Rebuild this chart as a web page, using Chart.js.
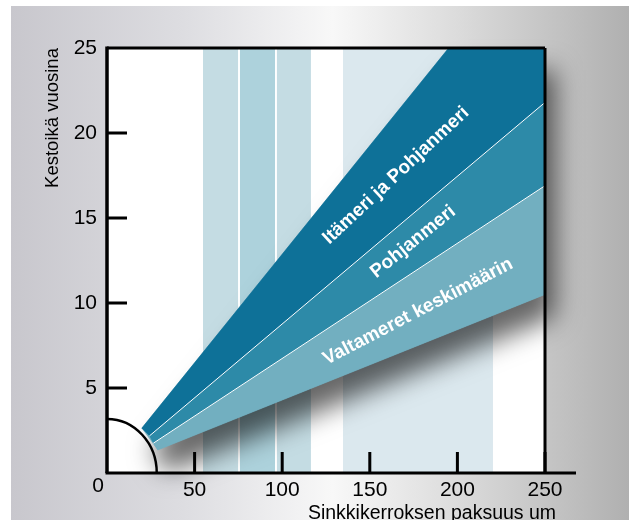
<!DOCTYPE html>
<html lang="fi">
<head>
  <meta charset="UTF-8">
  <title>Sinkkikerroksen kestoikä</title>
  <script src="https://cdn.jsdelivr.net/npm/chart.js@4.4.1/dist/chart.umd.min.js"></script>
  <style>
    body { margin: 0; background: #fff; }
  </style>
</head>
<body>
  <canvas id="chart" width="629" height="520"></canvas>

  <script>
    // AXES
    const xMax = 250;
    const yMax = 25;
    const xTitle = "Sinkkikerroksen paksuus um";
    const yTitle = "Kestoikä vuosina";

    // vertical bands behind the wedges (um)
    const bandStart = [54.8, 75.9, 97.0, 134.7];
    const bandEnd = [74.8, 95.9, 116.4, 220.3];
    const bandColors = ["#c4dce3", "#add2dc", "#c4dce3", "#dbe8ee"];

    // boundary lines of the wedges: start on the quarter circle, end at the frame
    const edgeStartX = [19.8, 24.2, 26.4, 28.9];
    const edgeStartY = [2.63, 2.18, 1.75, 1.35];
    const edgeEndX = [195, 250, 250, 250];
    const edgeEndY = [25, 21.8, 16.9, 10.5];

    // wedges, top to bottom
    const wedgeNames = ["Itämeri ja Pohjanmeri", "Pohjanmeri", "Valtameret keskimäärin"];
    const wedgeColors = ["#0e7198", "#2d8aa8", "#72afc0"];
    const nameX = [165, 174.7, 177.5];
    const nameY = [17.5, 13.6, 9.5];
    const nameAngle = [-43, -39, -27.5];

    // quarter circle at the origin, radius in axis units
    const arcRx = 28.4;
    const arcRy = 3.18;

    const FONT = '"Liberation Sans", Arial, Helvetica, sans-serif';

    // building datasets (first one is drawn on top)
    const datasets = [];

    // white lines between wedges
    [1, 2].forEach(i => datasets.push({
      data: [{x: edgeStartX[i], y: edgeStartY[i]}, {x: edgeEndX[i], y: edgeEndY[i]}],
      borderColor: "#ffffff",
      borderWidth: 1,
      fill: false,
      pointRadius: 0
    }));

    const firstWedge = datasets.length;
    wedgeNames.forEach((name, i) => {
      const pts = [{x: edgeStartX[i], y: edgeStartY[i]}, {x: edgeEndX[i], y: edgeEndY[i]}];
      if (edgeEndX[i] < xMax) pts.push({x: xMax, y: edgeEndY[i]});
      pts.push({x: edgeEndX[i + 1], y: edgeEndY[i + 1]});
      pts.push({x: edgeStartX[i + 1], y: edgeStartY[i + 1]});
      datasets.push({
        label: name,
        data: pts,
        backgroundColor: wedgeColors[i],
        borderColor: wedgeColors[i],
        borderWidth: 0.6,
        fill: "shape",
        pointRadius: 0
      });
    });

    const firstBand = datasets.length;
    bandStart.forEach((s, i) => datasets.push({
      data: [{x: s, y: 0}, {x: bandEnd[i], y: 0}, {x: bandEnd[i], y: yMax}, {x: s, y: yMax}],
      backgroundColor: bandColors[i],
      borderColor: "transparent",
      borderWidth: 0,
      fill: "shape",
      pointRadius: 0
    }));

    // background, plot box, shadow, frame and texts
    const decor = {
      id: "decor",
      beforeDraw(chart) {
        const {ctx, chartArea: a, width, height} = chart;
        ctx.save();
        ctx.fillStyle = "#ffffff";
        ctx.fillRect(0, 0, width, height);
        const g = ctx.createLinearGradient(11, 0, width, 0);
        g.addColorStop(0, "#c8c7cd");
        g.addColorStop(0.28, "#dddde1");
        g.addColorStop(0.52, "#f8f8f8");
        g.addColorStop(0.72, "#dcdcdc");
        g.addColorStop(1, "#b0b0b0");
        ctx.fillStyle = g;
        ctx.fillRect(11, 6, width - 11, height - 6);
        ctx.fillStyle = "#ffffff";
        ctx.fillRect(a.left, a.top, a.right - a.left, a.bottom - a.top);
        ctx.restore();
      },
      afterDatasetDraw(chart, args) {
        // drop shadow of the wedges, painted after the last band
        if (args.index !== firstBand) return;
        const top = chart.getDatasetMeta(firstWedge).data;
        const low = chart.getDatasetMeta(firstWedge + 2).data;
        const outline = [top[0], top[1], top[2], low[2], low[3]];
        const ctx = chart.ctx;
        ctx.save();
        ctx.shadowColor = "rgba(0,0,0,0.6)";
        ctx.shadowBlur = 26;
        ctx.shadowOffsetX = 10;
        ctx.shadowOffsetY = 22;
        ctx.fillStyle = wedgeColors[2];
        ctx.beginPath();
        outline.forEach((p, k) => k ? ctx.lineTo(p.x, p.y) : ctx.moveTo(p.x, p.y));
        ctx.closePath();
        ctx.fill();
        ctx.restore();
      },
      afterDatasetsDraw(chart) {
        const ctx = chart.ctx;
        const xs = chart.scales.x, ys = chart.scales.y;
        ctx.save();
        ctx.fillStyle = "#ffffff";
        ctx.font = "bold 19px " + FONT;
        ctx.textAlign = "center";
        ctx.textBaseline = "middle";
        wedgeNames.forEach((name, i) => {
          ctx.save();
          ctx.translate(xs.getPixelForValue(nameX[i]), ys.getPixelForValue(nameY[i]));
          ctx.rotate(nameAngle[i] * Math.PI / 180);
          ctx.fillText(name, 0, 0);
          ctx.restore();
        });
        ctx.restore();
      },
      afterDraw(chart) {
        const {ctx, chartArea: a} = chart;
        const xs = chart.scales.x, ys = chart.scales.y;
        const x0 = xs.getPixelForValue(0), y0 = ys.getPixelForValue(0);
        ctx.save();
        ctx.strokeStyle = "#000000";
        ctx.lineCap = "butt";

        // quarter circle
        ctx.lineWidth = 2.5;
        ctx.beginPath();
        ctx.ellipse(x0, y0, xs.getPixelForValue(arcRx) - x0, y0 - ys.getPixelForValue(arcRy), 0, -Math.PI / 2, 0);
        ctx.stroke();

        // frame
        ctx.lineWidth = 3;
        ctx.beginPath();
        ctx.moveTo(a.left, a.top); ctx.lineTo(a.right, a.top);
        ctx.moveTo(a.right, a.top); ctx.lineTo(a.right, a.bottom);
        ctx.stroke();
        ctx.lineWidth = 3.5;
        ctx.beginPath();
        ctx.moveTo(a.left, a.top - 1.5); ctx.lineTo(a.left, a.bottom);
        ctx.stroke();
        ctx.lineWidth = 3;
        ctx.beginPath();
        ctx.moveTo(a.left - 1.5, a.bottom); ctx.lineTo(a.right + 31, a.bottom);
        ctx.stroke();

        // inward tick marks
        ctx.lineWidth = 3;
        ctx.beginPath();
        ys.ticks.forEach(t => {
          if (t.value <= 0 || t.value >= yMax) return;
          const y = ys.getPixelForValue(t.value);
          ctx.moveTo(a.left, y); ctx.lineTo(a.left + 20, y);
        });
        xs.ticks.forEach(t => {
          if (t.value <= 0) return;
          const x = xs.getPixelForValue(t.value);
          ctx.moveTo(x, a.bottom); ctx.lineTo(x, a.bottom - 21);
        });
        ctx.stroke();

        // corner zero and axis titles
        ctx.fillStyle = "#000000";
        ctx.textAlign = "center";
        ctx.textBaseline = "middle";
        ctx.font = "21px " + FONT;
        ctx.fillText("0", x0 - 9, y0 + 13);

        ctx.font = "19.5px " + FONT;
        ctx.fillText(xTitle, 432, 514);

        ctx.save();
        ctx.font = "18.5px " + FONT;
        ctx.translate(53, 118);
        ctx.rotate(-Math.PI / 2);
        ctx.fillText(yTitle, 0, 0);
        ctx.restore();

        ctx.restore();
      }
    };

    const chart = new Chart("chart", {
      type: "line",
      data: { datasets: datasets },
      options: {
        responsive: false,
        animation: false,
        events: [],
        layout: { padding: { left: 0, top: 48, right: 84, bottom: 0 } },
        plugins: {
          legend: { display: false },
          tooltip: { enabled: false }
        },
        scales: {
          x: {
            type: "linear",
            min: 0,
            max: xMax,
            afterFit: s => { s.height = 47; },
            grid: { display: false, drawTicks: false },
            border: { display: false },
            ticks: {
              stepSize: 50,
              padding: 5,
              autoSkip: false,
              maxRotation: 0,
              color: "#000000",
              font: { family: FONT, size: 21 },
              callback: v => v === 0 ? "" : v
            }
          },
          y: {
            min: 0,
            max: yMax,
            afterFit: s => { s.width = 107; },
            grid: { display: false, drawTicks: false },
            border: { display: false },
            ticks: {
              stepSize: 5,
              padding: 10,
              color: "#000000",
              font: { family: FONT, size: 21 },
              callback: v => v === 0 ? "" : v
            }
          }
        }
      },
      plugins: [decor]
    });
  </script>
</body>
</html>
